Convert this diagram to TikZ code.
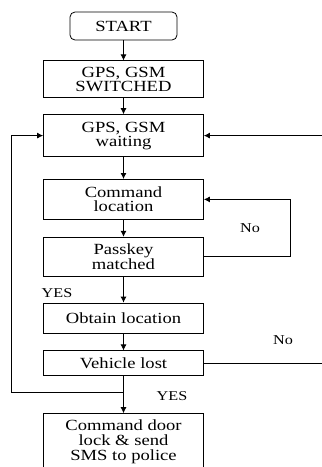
\documentclass[tikz,border=0pt]{standalone}
\usepackage{fontspec}
\setmainfont{Liberation Serif}[FakeStretch=1.2]
\usetikzlibrary{arrows.meta,positioning}

\begin{document}
\begin{tikzpicture}[x=1pt, y=1pt, >={Latex[length=6pt,width=6pt]},
  font=\fontsize{15.5}{14}\selectfont,
  box/.style={draw, line width=0.8pt, minimum width=160pt, align=center, inner sep=2pt},
  flow/.style={->, line width=0.8pt},
  lbl/.style={font=\fontsize{13.5}{14}\selectfont, inner sep=1pt}]
  \useasboundingbox (0,0) rectangle (322,-467);

  % nodes
  \node[draw, line width=0.8pt, rounded corners=5pt, minimum width=107pt, minimum height=28pt] (start) at (123.5,-26) {START};
  \node[box, minimum height=37pt, below=20pt of start] (switched) {GPS, GSM\\SWITCHED};
  \node[box, minimum height=42pt, below=16pt of switched] (waiting) {GPS, GSM\\waiting};
  \node[box, minimum height=40pt, below=22pt of waiting] (cmdloc) {Command\\location};
  \node[box, minimum height=39pt, below=17pt of cmdloc] (passkey) {Passkey\\matched};
  \node[box, minimum height=30pt, below=26pt of passkey] (obtain) {Obtain location};
  \node[box, minimum height=25pt, below=17pt of obtain] (lost) {Vehicle lost};
  \node[box, minimum height=58pt, below=37pt of lost] (police)
    {\raisebox{6pt}{\begin{tabular}{@{}c@{}}Command door\\lock \& send\\SMS to police\end{tabular}}};

  % main flow
  \draw[flow] (start) -- (switched);
  \draw[flow] (switched) -- (waiting);
  \draw[flow] (waiting) -- (cmdloc);
  \draw[flow] (cmdloc) -- (passkey);
  \draw[flow] (passkey) -- (obtain);
  \draw[flow] (obtain) -- (lost);
  \draw[flow] (lost) -- (police);

  % loops back
  \draw[flow] (passkey.east) -- ++(86,0) |- (cmdloc.east);
  \coordinate (join) at ([yshift=-16pt]lost.south);
  \draw[flow] (join) -- ++(-112,0) |- (waiting.west);
  \path (322,0) coordinate (edge);
  \coordinate (rin) at (waiting.east -| edge);
  \draw[flow] (rin) -- (waiting.east);
  \coordinate (rout) at (lost.east -| edge);
  \draw[line width=0.8pt] (lost.east) -- (rout);

  % labels
  \node[lbl] (no1) at (250,-228) {No};
  \node[lbl] (yes1) at (57,-293) {YES};
  \node[lbl] (no2) at (283,-340) {No};
  \node[lbl] (yes2) at (172,-396) {YES};
\end{tikzpicture}
\end{document}
